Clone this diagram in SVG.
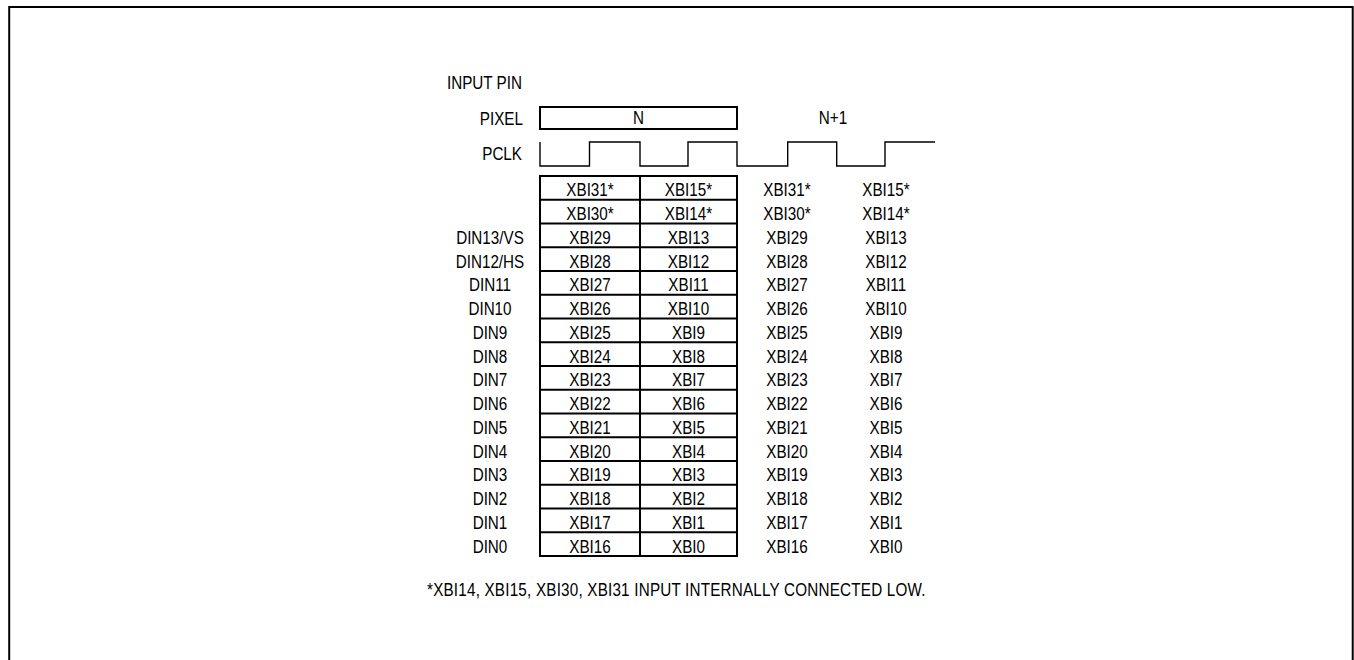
<svg xmlns="http://www.w3.org/2000/svg" width="1354" height="660" viewBox="0 0 1354 660">
<style>
.t{font-family:"Liberation Sans",Arial,sans-serif;font-size:17.5px;fill:#000}
.m{text-anchor:middle}
.e{text-anchor:end}
.ln{fill:none;stroke:#000;stroke-width:2}
.wv{fill:none;stroke:#000;stroke-width:1.4}
</style>
<rect id="frame" x="9.2" y="7" width="1343.5" height="700" fill="#fff" stroke="#000" stroke-width="2"/>
<g id="pixel-box"><rect class="ln" x="540" y="107" width="197" height="22"/></g>
<g id="pclk-wave"><path class="wv" d="M540,142 V166 H589.5 V142 H640 V166 H688 V142 H737 V166 H787.7 V142 H836.7 V166 H885 V142 H935"/></g>
<g id="table" class="ln">
<rect x="540" y="176" width="197" height="380"/>
<line x1="640" y1="176" x2="640" y2="556"/>
<path d="M540,199.75H737M540,223.5H737M540,247.25H737M540,271H737M540,294.75H737M540,318.5H737M540,342.25H737M540,366H737M540,389.75H737M540,413.5H737M540,437.25H737M540,461H737M540,484.75H737M540,508.5H737M540,532.25H737"/>
</g>
<g transform="scale(0.87 1)">
<g id="header-labels">
<text class="t" x="513.8" y="89">INPUT PIN</text>
<text class="t e" x="601.1" y="125">PIXEL</text>
<text class="t e" x="600" y="160">PCLK</text>
<text class="t m" x="733.9" y="124">N</text>
<text class="t m" x="957.5" y="124">N+1</text>
</g>
<g id="pin-labels" class="t m">
<text x="563.2" y="244">DIN13/VS</text>
<text x="563.2" y="267.75">DIN12/HS</text>
<text x="563.2" y="291.5">DIN11</text>
<text x="563.2" y="315.25">DIN10</text>
<text x="563.2" y="339">DIN9</text>
<text x="563.2" y="362.75">DIN8</text>
<text x="563.2" y="386.5">DIN7</text>
<text x="563.2" y="410.25">DIN6</text>
<text x="563.2" y="434">DIN5</text>
<text x="563.2" y="457.75">DIN4</text>
<text x="563.2" y="481.5">DIN3</text>
<text x="563.2" y="505.25">DIN2</text>
<text x="563.2" y="529">DIN1</text>
<text x="563.2" y="552.75">DIN0</text>
</g>
<g id="col-n-first" class="t m">
<text x="678.2" y="196.5">XBI31*</text>
<text x="678.2" y="220.25">XBI30*</text>
<text x="678.2" y="244">XBI29</text>
<text x="678.2" y="267.75">XBI28</text>
<text x="678.2" y="291.5">XBI27</text>
<text x="678.2" y="315.25">XBI26</text>
<text x="678.2" y="339">XBI25</text>
<text x="678.2" y="362.75">XBI24</text>
<text x="678.2" y="386.5">XBI23</text>
<text x="678.2" y="410.25">XBI22</text>
<text x="678.2" y="434">XBI21</text>
<text x="678.2" y="457.75">XBI20</text>
<text x="678.2" y="481.5">XBI19</text>
<text x="678.2" y="505.25">XBI18</text>
<text x="678.2" y="529">XBI17</text>
<text x="678.2" y="552.75">XBI16</text>
</g>
<g id="col-n-second" class="t m">
<text x="791.4" y="196.5">XBI15*</text>
<text x="791.4" y="220.25">XBI14*</text>
<text x="791.4" y="244">XBI13</text>
<text x="791.4" y="267.75">XBI12</text>
<text x="791.4" y="291.5">XBI11</text>
<text x="791.4" y="315.25">XBI10</text>
<text x="791.4" y="339">XBI9</text>
<text x="791.4" y="362.75">XBI8</text>
<text x="791.4" y="386.5">XBI7</text>
<text x="791.4" y="410.25">XBI6</text>
<text x="791.4" y="434">XBI5</text>
<text x="791.4" y="457.75">XBI4</text>
<text x="791.4" y="481.5">XBI3</text>
<text x="791.4" y="505.25">XBI2</text>
<text x="791.4" y="529">XBI1</text>
<text x="791.4" y="552.75">XBI0</text>
</g>
<g id="col-n1-first" class="t m">
<text x="904.6" y="196.5">XBI31*</text>
<text x="904.6" y="220.25">XBI30*</text>
<text x="904.6" y="244">XBI29</text>
<text x="904.6" y="267.75">XBI28</text>
<text x="904.6" y="291.5">XBI27</text>
<text x="904.6" y="315.25">XBI26</text>
<text x="904.6" y="339">XBI25</text>
<text x="904.6" y="362.75">XBI24</text>
<text x="904.6" y="386.5">XBI23</text>
<text x="904.6" y="410.25">XBI22</text>
<text x="904.6" y="434">XBI21</text>
<text x="904.6" y="457.75">XBI20</text>
<text x="904.6" y="481.5">XBI19</text>
<text x="904.6" y="505.25">XBI18</text>
<text x="904.6" y="529">XBI17</text>
<text x="904.6" y="552.75">XBI16</text>
</g>
<g id="col-n1-second" class="t m">
<text x="1018.4" y="196.5">XBI15*</text>
<text x="1018.4" y="220.25">XBI14*</text>
<text x="1018.4" y="244">XBI13</text>
<text x="1018.4" y="267.75">XBI12</text>
<text x="1018.4" y="291.5">XBI11</text>
<text x="1018.4" y="315.25">XBI10</text>
<text x="1018.4" y="339">XBI9</text>
<text x="1018.4" y="362.75">XBI8</text>
<text x="1018.4" y="386.5">XBI7</text>
<text x="1018.4" y="410.25">XBI6</text>
<text x="1018.4" y="434">XBI5</text>
<text x="1018.4" y="457.75">XBI4</text>
<text x="1018.4" y="481.5">XBI3</text>
<text x="1018.4" y="505.25">XBI2</text>
<text x="1018.4" y="529">XBI1</text>
<text x="1018.4" y="552.75">XBI0</text>
</g>
<g id="footnote">
<text class="t" x="490.8" y="596" textLength="573" lengthAdjust="spacing">*XBI14, XBI15, XBI30, XBI31 INPUT INTERNALLY CONNECTED LOW.</text>
</g>
</g>
<g id="connectors"/>
</svg>
